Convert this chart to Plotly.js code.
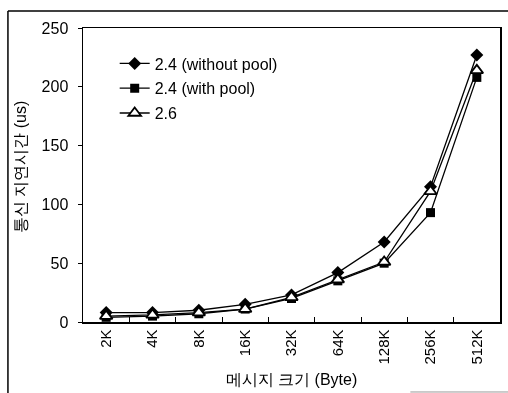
<!DOCTYPE html>
<html>
<head>
<meta charset="utf-8">
<script src="https://cdn.plot.ly/plotly-3.0.1.min.js"></script>
<style>
  html, body { margin: 0; padding: 0; background: #fff; }
  #chart { width: 508px; height: 393px; }
  /* monochrome figure: keep text antialiasing neutral grey */
  #chart svg { filter: grayscale(1); }
</style>
</head>
<body>
<div id="chart"></div>
<script>
// Message sizes on the category axis
const sizes = ["2K", "4K", "8K", "16K", "32K", "64K", "128K", "256K", "512K"];

// Communication latency (us) per kernel configuration
const kernel24NoPool = [8, 8, 10, 15, 23, 42, 68, 115, 227];
const kernel24Pool   = [4, 5, 7, 11, 20, 35, 50, 93, 208];
const kernel26       = [5, 6, 8, 11, 21, 36, 51, 111, 214];

const seriesNames = ["2.4 (without pool)", "2.4 (with pool)", "2.6"];
const xTitle = "메시지 크기 (Byte)";
const yTitle = "통신 지연시간 (us)";

const font = "Liberation Sans, Arial, sans-serif";

const traces = [
  {
    x: sizes, y: kernel24NoPool, name: seriesNames[0], legendgroup: "a",
    mode: "lines+markers", type: "scatter",
    line: { color: "#000", width: 1.3 },
    marker: { symbol: "diamond", size: 10, color: "#000" }
  },
  {
    x: sizes, y: kernel24Pool, name: seriesNames[1], legendgroup: "b",
    mode: "lines+markers", type: "scatter",
    line: { color: "#000", width: 1.3 },
    marker: { symbol: "square", size: 9, color: "#000" }
  },
  {
    x: sizes, y: kernel26, name: seriesNames[2], legendgroup: "c",
    mode: "lines+markers", type: "scatter",
    line: { color: "#000", width: 1.3 },
    marker: { symbol: "triangle-up", size: 11, color: "#fff", line: { color: "#000", width: 1.8 } }
  }
];

const layout = {
  width: 508,
  height: 393,
  margin: { l: 83, r: 8, t: 28, b: 71 },
  paper_bgcolor: "#fff",
  plot_bgcolor: "#fff",
  font: { family: font, size: 16, color: "#000" },
  showlegend: true,
  legend: {
    x: 0.076, y: 0.937, xanchor: "left", yanchor: "top",
    bgcolor: "rgba(0,0,0,0)",
    traceorder: "grouped",
    tracegroupgap: 1,
    font: { family: font, size: 16, color: "#000" }
  },
  xaxis: {
    type: "category",
    showline: true, linecolor: "#000", linewidth: 1.5,
    mirror: true,
    showgrid: false,
    ticks: "inside", ticklen: 5, tickcolor: "#000",
    tickson: "boundaries",
    tickangle: -90,
    tickfont: { family: font, size: 15, color: "#000" },
    title: { text: xTitle, font: { family: font, size: 16, color: "#000" }, standoff: 10 },
    range: [-0.5, 8.5]
  },
  yaxis: {
    range: [0, 250],
    dtick: 50,
    showline: true, linecolor: "#000", linewidth: 1.5,
    mirror: true,
    showgrid: false,
    zeroline: false,
    ticks: "outside", ticklen: 4, tickcolor: "#000",
    ticklabelstandoff: 6,
    tickfont: { family: font, size: 16, color: "#000" }
  },
  annotations: [
    // y-axis title, placed as a rotated annotation
    {
      text: yTitle, textangle: -90, showarrow: false,
      xref: "paper", yref: "paper", x: -0.151, y: 0.527,
      xanchor: "center", yanchor: "middle",
      font: { family: font, size: 16, color: "#000" }
    }
  ],
  shapes: [
    // outer frame around the figure
    { type: "line", xref: "paper", yref: "paper", x0: -0.18, x1: -0.18, y0: -0.242, y1: 1.058, line: { color: "#000", width: 1.5 } },
    { type: "line", xref: "paper", yref: "paper", x0: -0.18, x1: 1.02, y0: 1.058, y1: 1.058, line: { color: "#000", width: 1.5 } },
    { type: "line", xref: "paper", yref: "paper", x0: 0.785, x1: 1.02, y0: -0.238, y1: -0.238, line: { color: "#999", width: 1 } }
  ]
};

Plotly.newPlot("chart", traces, layout, { displayModeBar: false, staticPlot: true });
</script>
</body>
</html>
